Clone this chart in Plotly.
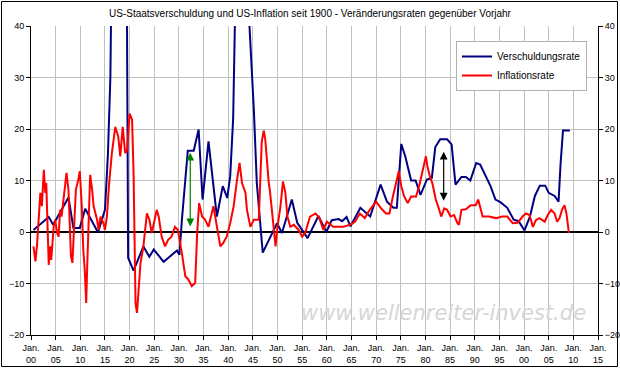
import plotly.graph_objects as go

# ---- data ----
debt_years = [1900.5, 1903.6, 1904.5, 1907.6, 1908.6, 1909.9, 1911.0, 1913.6, 1915.0, 1915.6,
              1916.1, 1916.6, 1917.5, 1918.5, 1919.45, 1919.7, 1920.8, 1922.8, 1924.0, 1924.9,
              1926.9, 1929.6, 1930.1, 1930.6, 1931.8, 1933.0, 1934.0, 1934.8, 1936.0, 1937.7,
              1938.9, 1939.8, 1940.4, 1941.0, 1941.7, 1942.5, 1943.5, 1944.2, 1945.2, 1945.8,
              1947.0, 1949.9, 1950.9, 1952.9, 1954.0, 1956.1, 1958.3, 1959.9, 1961.0, 1962.4,
              1963.1, 1964.0, 1964.8, 1966.8, 1968.8, 1970.9, 1972.2, 1973.5, 1974.2, 1975.1,
              1975.9, 1977.1, 1978.0, 1979.0, 1980.3, 1981.3, 1982.0, 1983.0, 1984.4, 1985.3,
              1986.1, 1987.3, 1988.2, 1989.1, 1990.3, 1991.1, 1993.2, 1994.2, 1995.2, 1996.6,
              1997.9, 1998.9, 2000.1, 2001.2, 2002.2, 2003.2, 2004.3, 2005.0, 2006.2, 2007.0,
              2007.4, 2007.9, 2009.3]
debt_rate = [0.4, 2.9, 1.4, 6.7, 0.8, 0.8, 4.5, -0.1, 4.3, 15.0,
             30.0, 45.0, 150.0, 120.0, 45.0, -5.0, -7.5, -2.8, -4.8, -3.4,
             -5.8, -3.6, -4.4, 2.3, 15.8, 15.8, 19.9, 6.3, 17.6, 3.0,
             8.9, 6.6, 10.8, 22.0, 42.0, 100.0, 80.0, 42.0, 23.7, 9.5,
             -4.0, 1.7, -0.2, 6.3, 1.8, -1.2, 3.1, 0.0, 2.3, 2.5,
             2.1, 2.9, 1.1, 4.7, 3.0, 9.2, 5.9, 4.7, 4.7, 17.1,
             14.7, 10.0, 10.0, 7.2, 10.2, 10.5, 16.5, 18.0, 18.0, 17.0,
             9.2, 10.7, 10.7, 10.0, 13.4, 13.1, 8.9, 6.3, 5.8, 4.7,
             2.4, 2.1, 0.3, 3.0, 7.0, 9.0, 9.0, 7.6, 7.0, 5.9,
             13.1, 19.7, 19.7]

infl_years = [1900.5, 1900.9, 1901.2, 1901.5, 1901.9, 1902.2, 1902.6, 1902.9, 1903.1, 1903.4,
              1903.6, 1903.9, 1904.1, 1904.6, 1904.9, 1905.3, 1905.6, 1905.9, 1906.2, 1906.9,
              1907.2, 1907.6, 1907.9, 1908.1, 1908.4, 1908.8, 1909.1, 1909.6, 1909.9, 1910.3,
              1910.6, 1910.9, 1911.2, 1911.4, 1911.7, 1912.0, 1912.4, 1912.7, 1913.4, 1913.7,
              1914.1, 1914.7, 1915.0, 1915.4, 1915.8, 1916.4, 1917.1, 1917.7, 1918.1, 1918.6,
              1919.1, 1919.5, 1920.0, 1920.5, 1920.8, 1921.2, 1921.5, 1922.2, 1922.8, 1923.5,
              1924.0, 1924.5, 1925.5, 1925.9, 1926.5, 1927.2, 1927.8, 1928.5, 1929.2, 1929.8,
              1930.6, 1931.3, 1931.9, 1932.6, 1933.3, 1933.7, 1934.1, 1934.7, 1935.3, 1936.0,
              1937.0, 1937.7, 1938.4, 1939.0, 1939.7, 1940.4, 1941.1, 1941.8, 1942.3, 1942.8,
              1943.5, 1943.8, 1944.5, 1945.2, 1946.2, 1946.8, 1947.2, 1947.5, 1947.9, 1948.2,
              1948.5, 1949.1, 1949.6, 1950.0, 1950.6, 1951.1, 1951.6, 1952.0, 1952.6, 1953.3,
              1954.3, 1955.0, 1955.6, 1956.6, 1957.7, 1958.5, 1959.3, 1960.0, 1961.3, 1963.3,
              1964.7, 1965.7, 1966.7, 1967.7, 1968.7, 1970.0, 1971.0, 1972.0, 1972.7, 1973.4,
              1974.1, 1974.6, 1975.1, 1975.7, 1976.4, 1977.1, 1978.1, 1978.8, 1979.4, 1980.1,
              1980.4, 1980.9, 1981.4, 1982.1, 1982.8, 1983.2, 1983.8, 1984.4, 1985.1, 1985.8,
              1986.5, 1986.8, 1987.3, 1988.2, 1989.2, 1990.2, 1990.7, 1991.2, 1991.6, 1992.9,
              1994.3, 1995.6, 1996.6, 1997.7, 1998.7, 1999.7, 2000.4, 2001.1, 2001.8, 2002.4,
              2003.1, 2004.2, 2004.8, 2005.5, 2006.2, 2006.7, 2007.2, 2007.7, 2008.2, 2008.6,
              2008.9, 2009.1]
infl_rate = [-2.8, -5.7, -2.8, 2.4, 7.6, 5.0, 12.1, 7.6, 9.5, -0.2,
             -6.4, -2.8, -5.4, 1.0, 2.4, -0.2, -0.9, 4.3, 3.0, 8.9,
             11.5, 8.2, -2.1, -4.7, -6.0, 2.4, 8.2, 10.2, 11.8, 5.0,
             -3.4, -7.3, -13.8, -6.7, 4.3, 11.1, 8.2, 5.0, 2.4, 0.4,
             3.0, 1.7, 0.4, 3.0, 8.9, 15.3, 20.4, 18.5, 14.7, 20.4,
             15.3, 16.0, 23.0, 21.8, 11.5, -13.8, -15.7, -6.1, -2.8, 3.6,
             2.4, -0.2, 4.3, 3.0, -0.9, -2.8, -1.5, -0.9, 1.0, 0.4,
             -4.1, -8.6, -9.2, -10.5, -9.9, -0.2, 5.6, 3.0, 2.4, 1.0,
             5.0, 1.0, -2.8, -2.1, -0.9, 1.7, 5.0, 10.2, 13.4, 9.5,
             7.6, 4.3, 1.0, 2.4, 2.4, 17.5, 19.7, 18.1, 12.4, 9.8,
             7.6, 1.7, -2.8, 1.0, 5.0, 9.8, 7.6, 3.0, 1.0, 1.4,
             0.4, -0.9, -0.2, 3.0, 3.6, 2.7, 0.4, 2.0, 1.0, 1.0,
             1.4, 2.0, 3.6, 2.7, 4.3, 5.9, 4.6, 3.6, 3.6, 6.9,
             10.1, 11.8, 8.9, 6.9, 5.6, 6.9, 6.9, 9.2, 11.8, 14.7,
             12.7, 10.8, 9.5, 6.3, 4.3, 3.0, 4.6, 4.3, 3.0, 3.3,
             1.7, 1.4, 4.3, 4.4, 5.2, 5.2, 6.3, 4.6, 3.0, 3.0,
             2.7, 3.0, 3.0, 1.7, 1.8, 3.0, 3.6, 3.3, 1.0, 2.3,
             2.7, 2.0, 3.3, 4.3, 3.6, 2.0, 2.7, 4.3, 5.2, 3.6,
             0.4, -0.2]

tick_years = list(range(1900, 2016, 5))
tick_labels = ["Jan.<br>%02d" % (y % 100) for y in tick_years]

title_text = "US-Staatsverschuldung und US-Inflation seit 1900 - Veränderungsraten gegenüber Vorjahr"
font_name = "Liberation Sans"

fig = go.Figure()
fig.add_trace(go.Scatter(x=debt_years, y=debt_rate, mode="lines", name="Verschuldungsrate",
                         line=dict(color="#000080", width=2)))
fig.add_trace(go.Scatter(x=infl_years, y=infl_rate, mode="lines", name="Inflationsrate",
                         line=dict(color="#ff0000", width=2)))
# invisible trace to activate right axis
fig.add_trace(go.Scatter(x=[1900], y=[0], yaxis="y2", mode="lines", showlegend=False,
                         line=dict(width=0), hoverinfo="skip"))

L, R, T, B = 31, 22, 26, 34
W, H = 620, 369
pw, ph = W - L - R, H - T - B

fig.update_layout(
    width=W, height=H,
    margin=dict(l=L, r=R, t=T, b=B, pad=0, autoexpand=False),
    paper_bgcolor="white", plot_bgcolor="white",
    font=dict(family=font_name, size=9, color="black"),
    showlegend=True,
    legend=dict(x=(456 - L) / pw, y=1 - (41 - T) / ph, xanchor="left", yanchor="top",
                bgcolor="white", bordercolor="#b0b0b0", borderwidth=1,
                font=dict(family=font_name, size=10), tracegroupgap=0,
                itemwidth=30),
    title=dict(text=title_text, x=0.5, xanchor="center", y=1 - 13 / H, yanchor="middle",
               font=dict(family=font_name, size=10)),
    xaxis=dict(range=[1900, 2015], tickvals=tick_years, ticktext=tick_labels,
               showgrid=True, gridcolor="#c0c0c0", gridwidth=1, automargin=False,
               showline=True, linecolor="black", linewidth=1,
               ticks="outside", ticklen=4, tickcolor="black",
               tickfont=dict(family=font_name, size=9), zeroline=False, fixedrange=True),
    yaxis=dict(range=[-20, 40], dtick=10, showgrid=True, gridcolor="#c0c0c0", gridwidth=1,
               showline=True, linecolor="black", linewidth=1, automargin=False,
               ticks="outside", ticklen=4, tickcolor="black",
               zeroline=True, zerolinecolor="black", zerolinewidth=2,
               tickfont=dict(family=font_name, size=9)),
    yaxis2=dict(range=[-20, 40], dtick=10, overlaying="y", side="right", automargin=False,
                showgrid=False, showline=True, linecolor="black", linewidth=1,
                ticks="outside", ticklen=4, tickcolor="black", zeroline=False,
                tickfont=dict(family=font_name, size=9)),
)

# arrows
fig.add_annotation(x=1932.3, y=15.4, ax=1932.3, ay=0.8, xref="x", yref="y", axref="x", ayref="y",
                   showarrow=True, arrowside="end+start", arrowhead=2, arrowsize=1.3,
                   arrowwidth=1.2, arrowcolor="#008000", text="")
fig.add_annotation(x=1983.7, y=15.6, ax=1983.7, ay=5.8, xref="x", yref="y", axref="x", ayref="y",
                   showarrow=True, arrowside="end+start", arrowhead=2, arrowsize=1.3,
                   arrowwidth=1.2, arrowcolor="black", text="")

# watermark
fig.add_annotation(text="www.wellenreiter-invest.de", xref="paper", yref="paper",
                   x=(443 - L) / pw, y=1 - (313 - T) / ph, showarrow=False,
                   xanchor="center", yanchor="middle",
                   font=dict(family="DejaVu Sans", size=21, color="#d6d6d6", style="italic"))

# outer border
fig.add_shape(type="rect", xref="paper", yref="paper",
              x0=(1.5 - L) / pw, x1=(W - 2.5 - L) / pw,
              y0=1 - (H - 2.5 - T) / ph, y1=1 - (1.5 - T) / ph,
              line=dict(color="black", width=1), fillcolor="rgba(0,0,0,0)", layer="below")

fig.write_html("out.html", config={"displayModeBar": False},
               post_script="document.body.style.margin='0';document.body.style.padding='0';")
